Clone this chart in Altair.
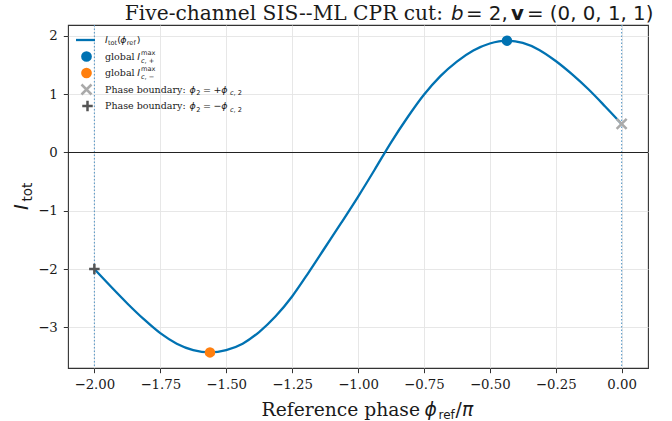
import altair as alt
import pandas as pd

# ---------------- data ----------------
phi_ref = [-2.0, -1.9375, -1.875, -1.8125, -1.75, -1.6875, -1.625, -1.5615, -1.5,
           -1.4375, -1.375, -1.3125, -1.25, -1.1875, -1.125, -1.0625, -1.0, -0.9375,
           -0.875, -0.8125, -0.75, -0.6875, -0.625, -0.5625, -0.5, -0.435, -0.375,
           -0.3125, -0.25, -0.1875, -0.125, -0.0625, 0.0]
i_tot = [-2.0, -2.30, -2.59, -2.86, -3.10, -3.28, -3.39, -3.43, -3.39,
         -3.28, -3.08, -2.81, -2.47, -2.06, -1.63, -1.20, -0.76, -0.30,
         0.17, 0.60, 0.99, 1.31, 1.56, 1.75, 1.87, 1.919, 1.88,
         1.76, 1.57, 1.34, 1.08, 0.79, 0.49]

max_plus_phi = [-0.435]
max_plus_I = [1.919]
max_minus_phi = [-1.5615]
max_minus_I = [-3.43]
bound_plus_phi = [0.0]
bound_plus_I = [0.49]
bound_minus_phi = [-2.0]
bound_minus_I = [-2.0]
boundary_lines = [-2.0, 0.0]
zero_line = [0.0]

x_ticks = [-2.0, -1.75, -1.5, -1.25, -1.0, -0.75, -0.5, -0.25, 0.0]
y_ticks = [-3, -2, -1, 0, 1, 2]
x_domain = [-2.1, 0.1]
y_domain = [-3.6975, 2.1875]

# ---------------- style / layout ----------------
BLUE = "#0072B2"
ORANGE = "#FF7F0E"
GRAY_X = "#AAAAAA"
GRAY_P = "#555555"
TXT = "#1a1a1a"
SERIF = "DejaVu Serif"
SANS = "DejaVu Sans"

W, H = 580, 343
PL, PT, PR, PB = 68, 25, 24, 53

x_axis = alt.Axis(values=x_ticks, format=".2f", labelFont=SERIF, labelFontSize=13.3,
                  labelColor=TXT, tickColor="#333", tickSize=4.7, tickWidth=1,
                  domain=False, grid=True, gridColor="#e4e4e4", gridWidth=0.9,
                  title=None, labelPadding=5, labelFlush=False, labelOverlap=False)
y_axis = alt.Axis(values=y_ticks, format="d", labelFont=SERIF, labelFontSize=13.3,
                  labelColor=TXT, tickColor="#333", tickSize=4.7, tickWidth=1,
                  domain=False, grid=True, gridColor="#e4e4e4", gridWidth=0.9,
                  title=None, labelPadding=6, labelOverlap=False)

X = alt.X("phi:Q", scale=alt.Scale(domain=x_domain, nice=False, zero=False), axis=x_axis)
Y = alt.Y("I:Q", scale=alt.Scale(domain=y_domain, nice=False, zero=False), axis=y_axis)

layers = []

curve_df = pd.DataFrame({"phi": phi_ref, "I": i_tot})

layers.append(
    alt.Chart(pd.DataFrame({"phi": boundary_lines})).mark_rule(
        color="#3f8ac0", strokeWidth=1, strokeDash=[1.5, 2], opacity=0.9
    ).encode(x=X)
)
layers.append(
    alt.Chart(pd.DataFrame({"I": zero_line})).mark_rule(color="#222222", strokeWidth=1.1).encode(y=Y)
)
layers.append(
    alt.Chart(curve_df).mark_line(color=BLUE, strokeWidth=2.3, interpolate="monotone").encode(x=X, y=Y)
)
layers.append(
    alt.Chart(pd.DataFrame({"phi": max_plus_phi, "I": max_plus_I})).mark_point(
        shape="circle", filled=True, color=BLUE, size=110, opacity=1).encode(x=X, y=Y)
)
layers.append(
    alt.Chart(pd.DataFrame({"phi": max_minus_phi, "I": max_minus_I})).mark_point(
        shape="circle", filled=True, color=ORANGE, size=110, opacity=1).encode(x=X, y=Y)
)
XSHAPE = "M-1,-1L1,1M1,-1L-1,1"
PSHAPE = "M-1,0L1,0M0,-1L0,1"
layers.append(
    alt.Chart(pd.DataFrame({"phi": bound_plus_phi, "I": bound_plus_I})).mark_point(
        shape=XSHAPE, filled=False, color=GRAY_X, size=100, strokeWidth=2.5, opacity=1).encode(x=X, y=Y)
)
layers.append(
    alt.Chart(pd.DataFrame({"phi": bound_minus_phi, "I": bound_minus_I})).mark_point(
        shape=PSHAPE, filled=False, color=GRAY_P, size=110, strokeWidth=2.5, opacity=1).encode(x=X, y=Y)
)

one = pd.DataFrame({"k": [0]})


def txt(s, x, y, size, font=SANS, style="normal", weight="normal", align="left", angle=0, color=TXT):
    return alt.Chart(one).mark_text(
        text=s, font=font, fontSize=size, fontStyle=style, fontWeight=weight,
        align=align, baseline="alphabetic", angle=angle, color=color
    ).encode(x=alt.value(x - PL), y=alt.value(y - PT))


def sym(x, y, shape, color, size, filled, sw=1.0):
    return alt.Chart(one).mark_point(
        shape=shape, filled=filled, color=color, size=size, strokeWidth=sw, opacity=1
    ).encode(x=alt.value(x - PL), y=alt.value(y - PT))


# ---- title ----
TB = 19.5
TS = 20.2
MS = 19.8
layers += [
    txt("Five-channel SIS--ML CPR cut:", 443, TB, TS, font=SERIF, align="right"),
    txt("b", 451, TB, MS, style="italic"),
    txt("= 2,", 466, TB, MS),
    txt("v", 511, TB, MS, weight="bold"),
    txt("= (0, 0, 1, 1)", 527, TB, MS),
]

# ---- x label ----
XB = 415.5
LS = 18.7
layers += [
    txt("Reference phase", 420, XB, LS, font=SERIF, align="right"),
    txt("ϕ", 424.5, XB, LS, style="italic"),
    txt("ref", 438.5, XB + 3, 12),
    txt("/", 455.5, XB, LS),
    txt("π", 462, XB, LS, style="italic"),
]

# ---- y label (rotated) ----
layers += [
    txt("I", 28, 210, 19.5, style="italic", angle=270),
    txt("tot", 31.5, 201.5, 13.5, angle=270),
]

# ---- legend ----
FS = 9.5
SB = 6.6
rows = [40, 56.5, 73, 89.5, 106]
layers.append(
    alt.Chart(one).mark_rule(color=BLUE, strokeWidth=2.3).encode(
        x=alt.value(76 - PL), x2=alt.value(95 - PL), y=alt.value(rows[0] - PT))
)
layers += [
    sym(86.5, rows[1], "circle", BLUE, 115, True),
    sym(86.5, rows[2], "circle", ORANGE, 115, True),
    sym(86.5, rows[3], XSHAPE, GRAY_X, 100, False, 2.5),
    sym(87.5, rows[4], PSHAPE, GRAY_P, 110, False, 2.5),
]
b0 = rows[0] + 3.3
layers += [
    txt("I", 105, b0, FS, style="italic"),
    txt("tot", 108.0, b0 + 2, SB),
    txt("(", 117.3, b0, FS),
    txt("ϕ", 120.3, b0, FS, style="italic"),
    txt("ref", 126.8, b0 + 2, SB),
    txt(")", 136.8, b0, FS),
]
for r, sign in ((rows[1], "+"), (rows[2], "−")):
    b = r + 3.3
    layers += [
        txt("global", 105, b, FS, font=SERIF),
        txt("I", 137.3, b, FS, style="italic"),
        txt("max", 141, b - 5, SB),
        txt("c", 141, b + 2.8, SB, style="italic"),
        txt(", " + sign, 144.6, b + 2.8, SB),
    ]
for r, sign in ((rows[3], "+"), (rows[4], "−")):
    b = r + 3.3
    layers += [
        txt("Phase boundary:", 105, b, FS, font=SERIF),
        txt("ϕ", 189.5, b, FS, style="italic"),
        txt("2", 196.3, b + 2.2, SB),
        txt("=", 203, b, FS),
        txt(sign, 213.5, b, FS),
        txt("ϕ", 221.2, b, FS, style="italic"),
        txt("c", 230, b + 2.2, SB, style="italic"),
        txt(", 2", 233.6, b + 2.2, SB),
    ]

chart = alt.layer(*layers).properties(
    width=W, height=H,
    padding={"left": PL, "top": PT, "right": PR, "bottom": PB},
    autosize=alt.AutoSizeParams(type="none"),
    background="white",
).configure_view(stroke="#333333", strokeWidth=1.1)

chart.save("out.html", embed_options={"renderer": "svg", "actions": False})
